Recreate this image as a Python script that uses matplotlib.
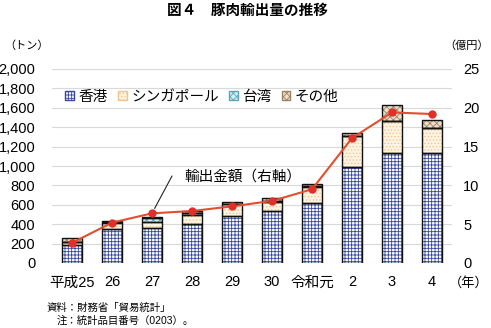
import matplotlib
matplotlib.use('Agg')
import matplotlib.pyplot as plt
import numpy as np
from matplotlib.patches import Patch

plt.rcParams['font.family'] = ['Liberation Sans', 'Noto Sans CJK JP', 'DejaVu Sans']
plt.rcParams['hatch.linewidth'] = 0.6

# exports by destination (tons) and export value (100 million yen)
years = ['平成25', '26', '27', '28', '29', '30', '令和元', '2', '3', '4']
hong_kong = [185, 350, 358, 400, 480, 536, 620, 993, 1131, 1131]
singapore = [30, 65, 68, 100, 125, 96, 167, 316, 333, 258]
taiwan = [5, 3, 35, 20, 5, 10, 4, 0, 0, 0]
others = [35, 15, 10, 20, 20, 25, 20, 28, 165, 85]
amount = [2.6, 5.2, 6.4, 6.7, 7.3, 8.0, 9.5, 16.1, 19.4, 19.2]

series = [
    ('香港', hong_kong, 'white', '#34479a', '+++++'),
    ('シンガポール', singapore, '#fdf4e4', '#f2c48c', '.....'),
    ('台湾', taiwan, '#d6eef2', '#5aa6b8', 'xxxxx'),
    ('その他', others, '#eadfcf', '#a08060', 'xxxxx'),
]

fig = plt.figure(figsize=(4.91, 3.28), dpi=100)
ax = fig.add_axes([52/491, 65/328, 400/491, 194/328])
x = np.arange(len(years))
w = 0.5

bottom = np.zeros(len(years))
handles = []
for name, vals, fc, hc, hatch in series:
    vals = np.array(vals, dtype=float)
    ax.bar(x, vals, w, bottom=bottom, color=fc, edgecolor=hc, hatch=hatch,
           linewidth=0, zorder=2)
    ax.bar(x, vals, w, bottom=bottom, fill=False, edgecolor='#111111',
           linewidth=1.0, zorder=3)
    handles.append(Patch(facecolor=fc, edgecolor=hc, hatch=hatch, label=name))
    bottom += vals

ax.set_xlim(-0.5, len(years) - 0.5)
ax.set_ylim(0, 2000)
ax.set_yticks(np.arange(0, 2001, 200))
ax.set_yticklabels(['{:,}'.format(v) for v in range(0, 2001, 200)], fontsize=10.5)
ax.set_xticks(x)
ax.set_xticklabels(years, fontsize=10.5)
ax.tick_params(axis='x', length=0, pad=9)
ax.tick_params(axis='y', length=0, pad=12)
ax.grid(axis='y', color='#d9d9d9', linewidth=0.8)
ax.set_axisbelow(True)
for s in ax.spines.values():
    s.set_visible(False)

ax2 = ax.twinx()
ax2.plot(x, amount, color='#e0502e', linewidth=1.5, marker='o',
         markersize=5, markerfacecolor='#e03028', markeredgecolor='#e03028',
         zorder=5)
ax2.set_ylim(0, 25)
ax2.set_yticks(np.arange(0, 26, 5))
ax2.set_yticklabels([str(v) for v in range(0, 26, 5)], fontsize=10.5)
ax2.tick_params(length=0, pad=8)
for s in ax2.spines.values():
    s.set_visible(False)

# legend across the top of the plot
fig.legend(handles=handles, loc='center left', bbox_to_anchor=(58/491, 1 - 97/328),
           ncol=4, frameon=False, fontsize=10.5, handlelength=0.6,
           handleheight=0.6, handletextpad=0.3, columnspacing=0.7,
           borderpad=0)

# leader line from the label to the value series
ax2.annotate('', xy=(x[2], amount[2]), xycoords='data',
             xytext=(172/491, 1 - 176/328), textcoords='figure fraction',
             arrowprops=dict(arrowstyle='-', color='#222222', lw=0.8,
                             shrinkA=0, shrinkB=4))
fig.text(184/491, 1 - 177/328, '輸出金額（右軸）', fontsize=10.5,
         ha='left', va='center')

fig.text(247/491, 1 - 11/328, '図４　豚肉輸出量の推移', fontsize=10.5,
         fontweight='bold', ha='center', va='center')
fig.text(4/491, 1 - 46/328, '（トン）', fontsize=8, ha='left', va='center')
fig.text(489/491, 1 - 46/328, '（億円）', fontsize=8, ha='right', va='center')
fig.text(489/491, 1 - 283/328, '（年）', fontsize=9.5, ha='right', va='center')
fig.text(47/491, 1 - 308/328, '資料：財務省「貿易統計」', fontsize=7.5,
         ha='left', va='center')
fig.text(57/491, 1 - 321/328, '注：統計品目番号（0203）。', fontsize=7.5,
         ha='left', va='center')

fig.savefig('out.png', dpi=100, facecolor='white')
